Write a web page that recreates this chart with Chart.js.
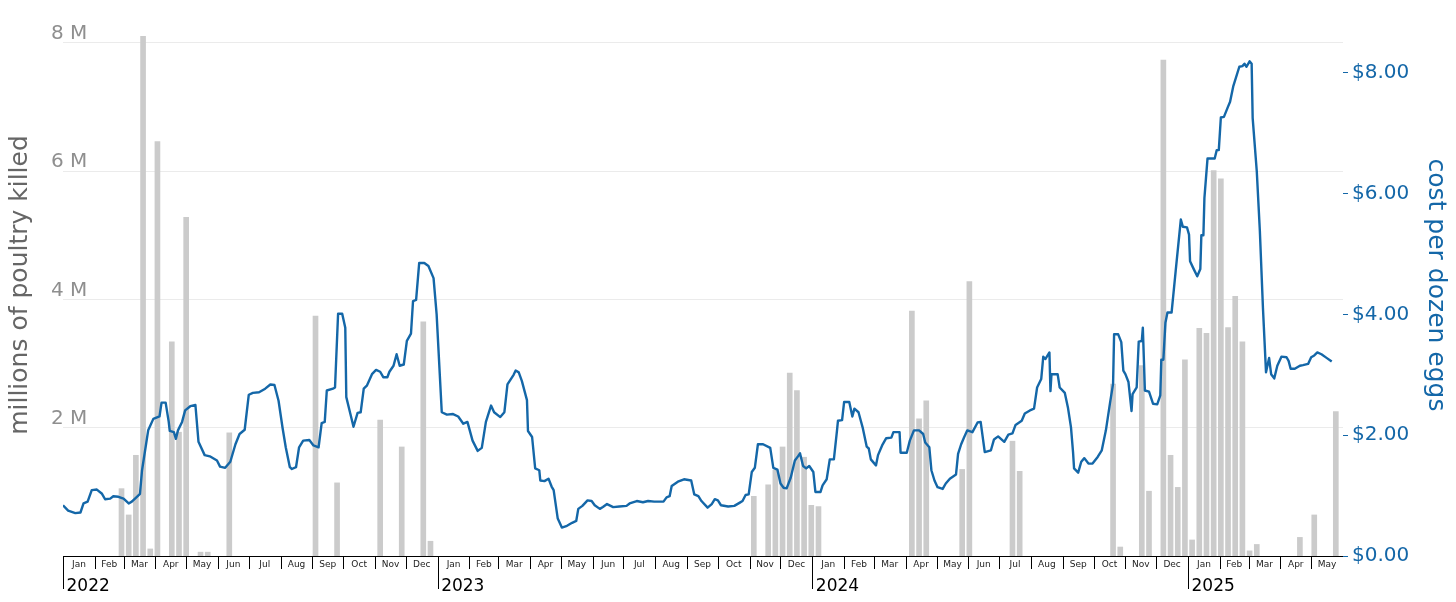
<!DOCTYPE html>
<html>
<head>
<meta charset="utf-8">
<script src="https://cdn.jsdelivr.net/npm/chart.js@4.4.1/dist/chart.umd.min.js"></script>
<style>
  html, body { margin: 0; padding: 0; background: #fff; }
  #wrap { width: 1456px; height: 602px; position: relative; }
</style>
</head>
<body>
<div id="wrap"><canvas id="chart"></canvas></div>
<script>
// days are counted from 2022-01-01 (day 0)

// weekly poultry killed (millions), only weeks with outbreaks
const killDays = [57, 64, 71, 78, 85, 92, 106, 113, 120, 134, 141, 162,
  246, 267, 309, 330, 351, 358,
  673, 687, 694, 701, 708, 715, 722, 729, 736,
  827, 834, 841, 876, 883, 925, 932,
  1023, 1030, 1051, 1058, 1072, 1079, 1086, 1093, 1100, 1107, 1114, 1121, 1128,
  1135, 1142, 1149, 1156, 1163, 1205, 1219, 1240];
const killMillions = [1.05, 0.64, 1.57, 8.10, 0.11, 6.46, 3.34, 1.93, 5.28, 0.06, 0.06, 1.92,
  3.74, 1.14, 2.12, 1.70, 3.65, 0.23,
  0.93, 1.11, 1.34, 1.70, 2.85, 2.58, 1.54, 0.79, 0.77,
  3.82, 2.14, 2.42, 1.35, 4.28, 1.79, 1.32,
  2.68, 0.14, 2.97, 1.01, 7.73, 1.57, 1.07, 3.06, 0.25, 3.55, 3.47, 6.01, 5.88,
  3.56, 4.05, 3.34, 0.08, 0.18, 0.29, 0.64, 2.25];

// egg price, dollars per dozen
const eggDays = [0, 5, 12, 17, 20, 24, 28, 33, 38, 41, 46, 49, 54, 59, 64, 67, 72, 75, 77, 80,
  83, 88, 94, 96, 100, 103, 104, 108, 110, 112, 116, 119, 124, 129, 132, 138, 143, 150, 153, 158,
  163, 168, 172, 177, 181, 185, 191, 197, 202, 206, 210, 214, 217, 221,
  223, 227, 230, 234, 240, 244, 249, 252, 255, 257, 263, 265, 268, 272, 275, 276, 280, 283, 287, 290,
  293, 296, 301, 305, 309, 312, 316, 318, 322, 325, 328, 332, 335, 339, 341, 344, 347, 352, 356, 361,
  364, 369, 374, 380, 385, 390, 394, 399, 404, 408, 412, 417, 420, 426,
  430, 433, 439, 441, 444, 447, 452, 453, 457, 460, 464, 465, 469, 473, 476, 478, 482, 486, 491, 496,
  500, 502, 506, 511, 515, 518, 523, 526, 530, 536, 542, 549, 552, 559, 565, 570, 576, 585, 588, 591,
  593, 599, 605, 612, 615, 619, 622, 628, 632, 635,
  638, 641, 648, 654, 659, 662, 665, 668, 671, 674, 677, 682, 689, 692, 696, 699, 702, 705, 709, 713,
  716, 718, 721, 724, 727, 731, 733, 738, 740, 744, 747, 751, 754, 755, 759, 761, 766, 769, 771, 775,
  779, 783, 785, 787, 792, 794, 798, 802, 807, 809, 815, 816, 822, 825, 829, 834, 838, 840, 844,
  846, 849, 852, 857, 860, 864, 870, 872, 875, 878, 881, 886, 891, 894, 898, 904, 907, 911, 917, 921,
  925, 928, 934, 937, 942, 946, 949, 953, 955, 957, 961, 962, 963, 969, 971, 976, 979, 982, 984, 985,
  989, 992, 995, 999, 1003, 1008, 1012, 1016, 1020, 1023, 1024, 1028, 1031, 1033, 1035, 1038, 1041, 1042,
  1046, 1048, 1051, 1052, 1054, 1058, 1062, 1066, 1069, 1070, 1072, 1074, 1076, 1080, 1084, 1089, 1091,
  1095, 1097, 1098, 1101, 1105, 1108, 1109, 1111, 1112, 1115, 1122, 1124, 1126, 1128, 1131, 1135, 1137,
  1140, 1146, 1149, 1151, 1153, 1156, 1158, 1159, 1163, 1166, 1169, 1172, 1175, 1177, 1180, 1183, 1187,
  1192, 1194, 1196, 1200, 1205, 1208, 1213, 1216, 1219, 1222, 1226, 1231, 1236];
const eggPrice = [0.84, 0.75, 0.71, 0.72, 0.87, 0.90, 1.09, 1.10, 1.03, 0.94, 0.95, 0.99, 0.98, 0.95, 0.87, 0.90, 0.98, 1.03, 1.42, 1.75,
  2.08, 2.27, 2.31, 2.54, 2.54, 2.22, 2.07, 2.05, 1.94, 2.08, 2.22, 2.41, 2.48, 2.50, 1.89, 1.67, 1.65, 1.58, 1.48, 1.46,
  1.56, 1.85, 2.02, 2.09, 2.67, 2.70, 2.71, 2.77, 2.84, 2.83, 2.57, 2.11, 1.80, 1.47,
  1.44, 1.47, 1.80, 1.91, 1.92, 1.83, 1.80, 2.20, 2.22, 2.74, 2.77, 2.79, 4.01, 4.01, 3.78, 2.63, 2.35, 2.14, 2.37, 2.38,
  2.77, 2.82, 3.01, 3.08, 3.05, 2.96, 2.96, 3.05, 3.15, 3.34, 3.15, 3.17, 3.56, 3.68, 4.22, 4.24, 4.85, 4.85, 4.80, 4.60,
  4.00, 2.38, 2.34, 2.35, 2.31, 2.19, 2.22, 1.91, 1.74, 1.79, 2.22, 2.49, 2.38, 2.30,
  2.38, 2.84, 3.00, 3.07, 3.04, 2.90, 2.58, 2.07, 1.97, 1.45, 1.42, 1.25, 1.24, 1.28, 1.15, 1.09, 0.62, 0.47, 0.50, 0.55,
  0.58, 0.78, 0.83, 0.92, 0.91, 0.84, 0.78, 0.81, 0.86, 0.81, 0.82, 0.83, 0.87, 0.91, 0.89, 0.91, 0.90, 0.90, 0.97, 0.99,
  1.16, 1.23, 1.27, 1.25, 1.02, 0.99, 0.91, 0.80, 0.86, 0.94,
  0.92, 0.84, 0.82, 0.83, 0.88, 0.91, 1.01, 1.02, 1.39, 1.46, 1.85, 1.85, 1.79, 1.46, 1.43, 1.20, 1.13, 1.12, 1.30, 1.58,
  1.65, 1.70, 1.49, 1.45, 1.49, 1.39, 1.06, 1.06, 1.17, 1.27, 1.60, 1.60, 2.07, 2.24, 2.25, 2.55, 2.55, 2.31, 2.44, 2.38,
  2.13, 1.81, 1.78, 1.60, 1.50, 1.67, 1.83, 1.95, 1.96, 2.05, 2.05, 1.71, 1.71, 1.91, 2.08, 2.08, 2.02, 1.88, 1.80,
  1.42, 1.25, 1.14, 1.11, 1.20, 1.28, 1.35, 1.69, 1.85, 1.97, 2.08, 2.05, 2.21, 2.22, 1.72, 1.75, 1.93, 1.98, 1.89, 2.01,
  2.03, 2.17, 2.24, 2.36, 2.41, 2.44, 2.79, 2.93, 3.30, 3.26, 3.37, 2.73, 3.01, 3.01, 2.79, 2.70, 2.46, 2.13, 1.72, 1.45,
  1.38, 1.56, 1.62, 1.53, 1.53, 1.64, 1.75, 2.08, 2.53, 2.85, 3.67, 3.67, 3.54, 3.07, 3.01, 2.88, 2.40, 2.68,
  2.79, 3.55, 3.56, 3.78, 2.74, 2.72, 2.52, 2.51, 2.66, 3.25, 3.25, 3.86, 4.03, 4.03, 4.72, 5.57, 5.45,
  5.44, 5.32, 4.88, 4.77, 4.63, 4.75, 5.31, 5.31, 5.93, 6.58, 6.58, 6.72, 6.72, 7.26, 7.27, 7.44, 7.52,
  7.77, 8.10, 8.11, 8.15, 8.10, 8.19, 8.15, 7.25, 6.37, 5.38, 4.11, 3.04, 3.28, 3.01, 2.94, 3.15, 3.30,
  3.29, 3.23, 3.10, 3.10, 3.15, 3.16, 3.18, 3.29, 3.32, 3.37, 3.34, 3.28, 3.22];

// axis ticks and labels
const killTicks = [2, 4, 6, 8];
const eggTicks = [0, 2, 4, 6, 8];
const monthLabels = ['Jan', 'Feb', 'Mar', 'Apr', 'May', 'Jun', 'Jul', 'Aug', 'Sep', 'Oct', 'Nov', 'Dec'];
const yearLabels = ['2022', '2023', '2024', '2025'];
const lastDay = 1247; // 2025-06-01

const BLUE = '#1467a8';
Chart.defaults.font.family = "'DejaVu Sans', sans-serif";

// month starts from Jan 2022 to Jun 2025
const dayMs = 86400000;
const origin = Date.UTC(2022, 0, 1);
const monthStarts = [];
for (let y = 0; y < yearLabels.length; y++) {
    for (let m = 0; m < 12; m++) {
        const d = Math.round((Date.UTC(2022 + y, m, 1) - origin) / dayMs);
        if (d > lastDay) break;
        monthStarts.push({ day: d, month: m, year: y });
    }
}

// two level date axis: months in small boxes, years underneath
const dateAxis = {
    id: 'dateAxis',
    afterDraw(chart) {
        const { ctx, chartArea } = chart;
        const xs = chart.scales.x;
        const y0 = chartArea.bottom;
        ctx.save();
        ctx.strokeStyle = '#000';
        ctx.lineWidth = 1;
        ctx.beginPath();
        ctx.moveTo(chartArea.left, y0 + 0.5);
        ctx.lineTo(chartArea.right, y0 + 0.5);
        ctx.stroke();

        ctx.fillStyle = '#222';
        ctx.textBaseline = 'middle';
        ctx.textAlign = 'center';
        ctx.font = "9px 'DejaVu Sans'";
        for (let i = 0; i < monthStarts.length; i++) {
            const ms = monthStarts[i];
            if (ms.day >= lastDay) continue;
            const px = Math.round(xs.getPixelForValue(ms.day)) + 0.5;
            const isYear = ms.month === 0;
            ctx.beginPath();
            ctx.moveTo(px, y0);
            ctx.lineTo(px, y0 + (isYear ? 33 : 13));
            ctx.stroke();
            const next = i + 1 < monthStarts.length ? monthStarts[i + 1].day : lastDay;
            const mid = xs.getPixelForValue((ms.day + next) / 2);
            ctx.fillText(monthLabels[ms.month], mid, y0 + 8.5);
        }
        ctx.fillStyle = '#000';
        ctx.textAlign = 'left';
        ctx.textBaseline = 'alphabetic';
        ctx.font = "17px 'DejaVu Sans'";
        monthStarts.filter(ms => ms.month === 0).forEach(ms => {
            const px = xs.getPixelForValue(ms.day);
            ctx.fillText(yearLabels[ms.year], px + 3.5, y0 + 34.5);
        });
        ctx.restore();
    }
};

const ctx = document.getElementById('chart').getContext('2d');
const chart = new Chart(ctx, {
    type: 'bar',
    data: {
        datasets: [
            {
                type: 'line',
                label: 'cost per dozen eggs',
                yAxisID: 'y1',
                data: eggDays.map((d, i) => ({ x: d, y: eggPrice[i] })),
                borderColor: BLUE,
                borderWidth: 2.4,
                pointRadius: 0,
                tension: 0,
                fill: false,
                borderJoinStyle: 'round'
            },
            {
                type: 'bar',
                label: 'millions of poultry killed',
                yAxisID: 'y',
                data: killDays.map((d, i) => ({ x: d, y: killMillions[i] })),
                backgroundColor: '#cbcbcb',
                barThickness: 5
            }
        ]
    },
    options: {
        responsive: true,
        maintainAspectRatio: false,
        animation: false,
        layout: { padding: { top: 14, bottom: 46, left: 0, right: 0 } },
        plugins: {
            legend: { display: false },
            tooltip: { enabled: false }
        },
        scales: {
            x: {
                type: 'linear',
                display: false,
                min: 0,
                max: lastDay,
                offset: false
            },
            y: {
                position: 'left',
                min: 0,
                max: 8.45,
                afterBuildTicks: (scale) => { scale.ticks = killTicks.map(v => ({ value: v })); },
                afterFit: (scale) => { scale.width = 63; scale.paddingTop = 0; scale.paddingBottom = 0; },
                grid: { color: '#ebebeb', lineWidth: 1, drawTicks: false },
                border: { display: false },
                ticks: {
                    color: '#8f8f8f',
                    font: { size: 20 },
                    mirror: true,
                    padding: -12,
                    labelOffset: -9,
                    callback: (v) => v + ' M'
                },
                title: {
                    display: true,
                    text: 'millions of poultry killed',
                    color: '#666',
                    font: { size: 25 },
                    padding: { top: 5, bottom: 0 }
                }
            },
            y1: {
                position: 'right',
                min: 0,
                max: 8.973,
                afterBuildTicks: (scale) => { scale.ticks = eggTicks.map(v => ({ value: v })); },
                afterFit: (scale) => { scale.width = 113; scale.paddingTop = 0; scale.paddingBottom = 0; },
                grid: { drawOnChartArea: false, drawTicks: true, tickLength: 5, tickColor: BLUE, tickWidth: 1 },
                border: { display: false },
                ticks: {
                    color: BLUE,
                    font: { size: 20 },
                    padding: 4,
                    callback: (v) => '$' + Number(v).toFixed(2)
                },
                title: {
                    display: true,
                    text: 'cost per dozen eggs',
                    color: BLUE,
                    font: { size: 25 },
                    padding: { top: 6, bottom: 0 }
                }
            }
        }
    },
    plugins: [dateAxis]
});
</script>
</body>
</html>
